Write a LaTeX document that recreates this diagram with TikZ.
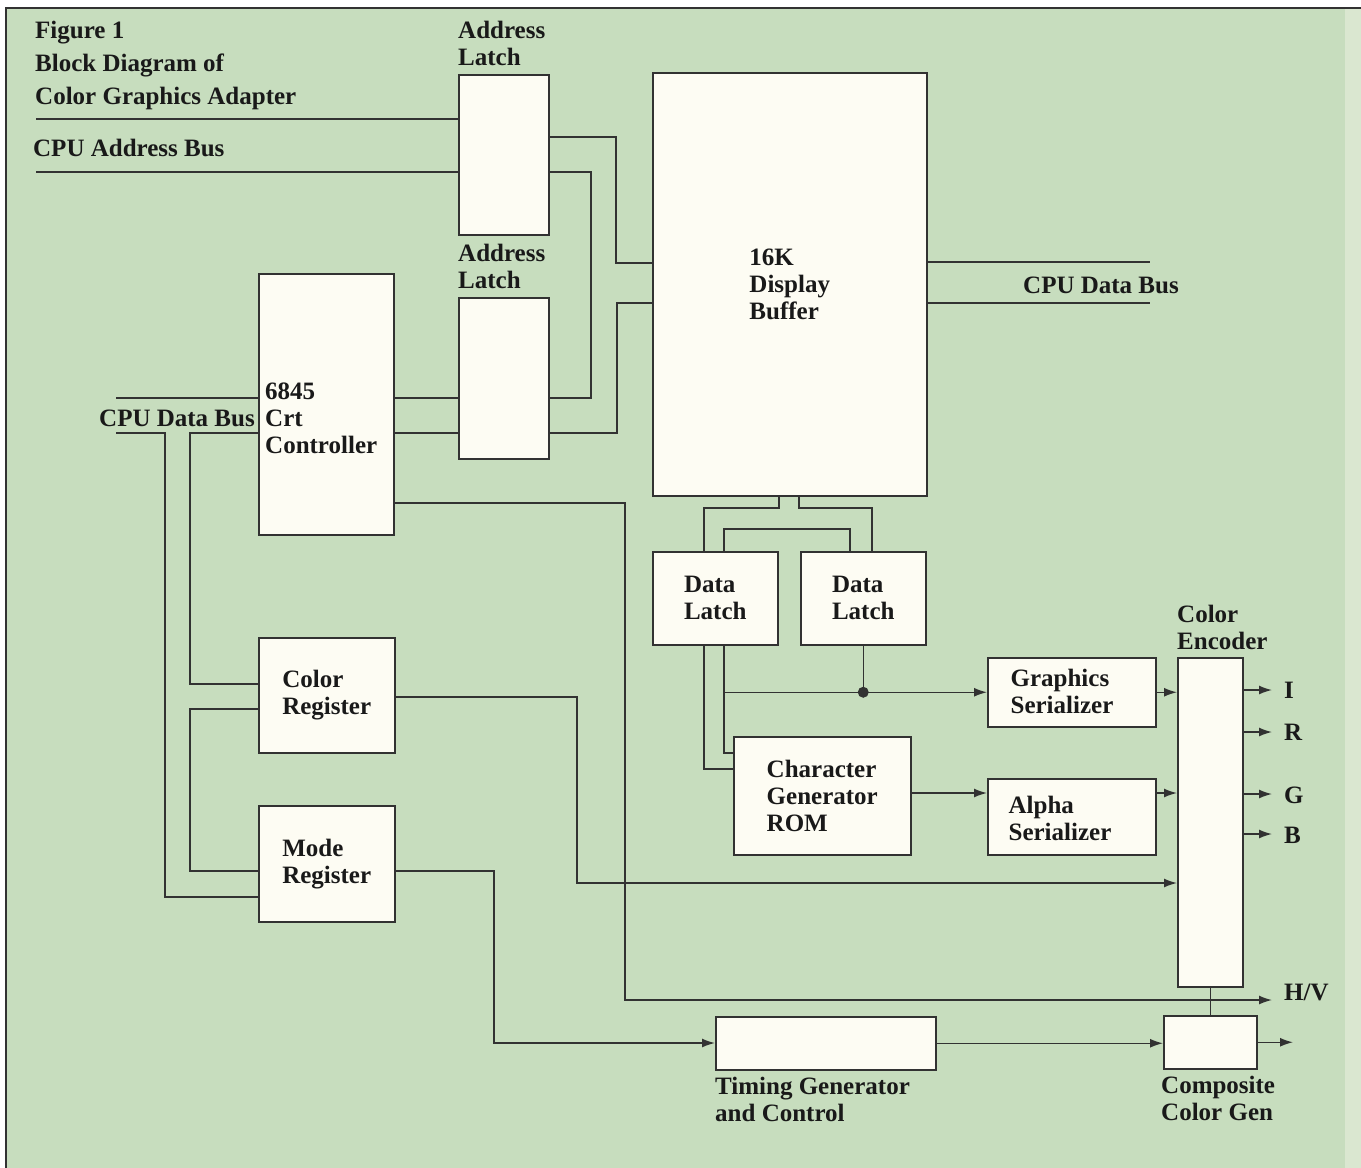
\documentclass[tikz,border=0pt]{standalone}
\usepackage{fontspec}
\setmainfont{Liberation Serif}
\usetikzlibrary{arrows.meta}
\definecolor{bgc}{RGB}{199,221,190}
\definecolor{stripc}{RGB}{218,231,208}
\definecolor{boxc}{RGB}{253,252,243}
\definecolor{linec}{RGB}{50,50,50}
\newcommand\blkfont{\fontsize{25}{27}\selectfont\bfseries}
\tikzset{
  blk/.style={draw=linec,fill=boxc,line width=1.5pt,inner sep=0pt,anchor=north west,
    font=\blkfont,align=left,text=black!90},
  lbl/.style={font=\blkfont,align=left,inner sep=0pt,text=black!90},
  wire/.style={draw=linec,line width=1.5pt},
  arr/.style={wire,-{Latex[length=13pt,width=9pt]}}
}

\begin{document}
\begin{tikzpicture}[x=1pt,y=-1pt]
  \useasboundingbox (0,0) rectangle (1361,1168);
  \fill[white] (0,0) rectangle (1361,1168);
  \fill[bgc] (6,8) rectangle (1361,1168);
  \fill[stripc] (1345,8) rectangle (1361,1168);
  \draw[linec,line width=1.2pt] (6,1168) -- (6,8) -- (1361,8);

  % blocks
  \node[blk,minimum width=90,minimum height=160] (al1) at (458,74) {};
  \node[blk,minimum width=90,minimum height=161] (al2) at (458,297) {};
  \node[blk,minimum width=274,minimum height=423] (db) at (652,72) {16K\\Display\\Buffer};
  \node[blk,minimum width=135,minimum height=261] (crt) at (258,273) {};
  \node[blk,minimum width=136,minimum height=115] (color) at (258,637) {Color\\Register};
  \node[blk,minimum width=136,minimum height=116] (mode) at (258,805) {Mode\\Register};
  \node[blk,minimum width=125,minimum height=93] (dl1) at (652,551) {Data\\Latch};
  \node[blk,minimum width=125,minimum height=93] (dl2) at (800,551) {Data\\Latch};
  \node[blk,minimum width=177,minimum height=118] (cg) at (733,736) {Character\\Generator\\ROM};
  \node[blk,minimum width=168,minimum height=69] (graph) at (987,657) {};
  \node[blk,minimum width=168,minimum height=76] (alpha) at (987,778) {};
  \node[blk,minimum width=65,minimum height=329] (enc) at (1177,657) {};
  \node[blk,minimum width=220,minimum height=53] (timing) at (715,1016) {};
  \node[blk,minimum width=93,minimum height=53] (comp) at (1163,1015) {};

  % texts
  \node[lbl,anchor=north west,font=\fontsize{25}{33}\selectfont\bfseries] (title) at (35,21)
    {Figure 1\\Block Diagram of\\Color Graphics Adapter};
  \node[lbl,anchor=base west] at (33,156) {CPU Address Bus};
  \node[lbl,anchor=south west] at ([yshift=8]al1.north west) {Address\\Latch};
  \node[lbl,anchor=south west] at ([yshift=8]al2.north west) {Address\\Latch};
  \node[lbl,anchor=west] at ([xshift=7]crt.west |- 0,418) {6845\\Crt\\Controller};
  \node[lbl,anchor=base east] at (255,426) {CPU Data Bus};
  \node[lbl,anchor=base west] at (1023,293) {CPU Data Bus};
  \node[lbl] at (1062,691) {Graphics\\Serializer};
  \node[lbl] at (1060,818) {Alpha\\Serializer};
  \node[lbl,anchor=south west] at ([yshift=7]enc.north west) {Color\\Encoder};
  \node[lbl,anchor=north west] at ([yshift=-6]timing.south west) {Timing Generator\\and Control};
  \node[lbl,anchor=north west] at ([xshift=-2,yshift=-6]comp.south west) {Composite\\Color Gen};
  \node[lbl,anchor=west] at (1284,690) {I};
  \node[lbl,anchor=west] at (1284,732) {R};
  \node[lbl,anchor=west] at (1284,795) {G};
  \node[lbl,anchor=west] at (1284,835) {B};
  \node[lbl,anchor=west] at (1284,992) {H/V};

  % address bus
  \coordinate (abus1) at (36,119); \coordinate (abus2) at (36,172);
  \draw[wire] (abus1) -- (al1.west |- abus1);
  \draw[wire] (abus2) -- (al1.west |- abus2);
  \draw[wire] (al1.east |- 0,137) -| (616,263) -- (db.west |- 0,263);
  \draw[wire] (al1.east |- 0,172) -| (591,398) -- (al2.east |- 0,398);
  \draw[wire] (db.west |- 0,303) -| (617,433) -- (al2.east |- 0,433);
  \draw[wire] (crt.east |- 0,398) -- (al2.west |- 0,398);
  \draw[wire] (crt.east |- 0,433) -- (al2.west |- 0,433);

  % data bus
  \coordinate (dbus1) at (1150,262); \coordinate (dbus2) at (1150,303);
  \draw[wire] (db.east |- dbus1) -- (dbus1);
  \draw[wire] (db.east |- dbus2) -- (dbus2);
  \coordinate (cbus1) at (116,398); \coordinate (cbus2) at (116,433);
  \draw[wire] (cbus1) -- (crt.west |- cbus1);
  \draw[wire] (cbus2) -| (165,897) -- (mode.west |- 0,897);
  \draw[wire] (crt.west |- cbus2) -| (190,684) -- (color.west |- 0,684);
  \draw[wire] (color.west |- 0,709) -| (190,871) -- (mode.west |- 0,871);

  % buffer to latches
  \draw[wire] (db.south -| 779,0) -- (779,508) -| (dl1.north -| 704,0);
  \draw[wire] (db.south -| 799,0) -- (799,508) -| (dl2.north -| 872,0);
  \draw[wire] (dl1.north -| 724,0) -- (724,529) -| (dl2.north -| 850,0);
  \draw[wire] (dl1.south -| 704,0) |- (cg.west |- 0,769);
  \draw[wire] (dl1.south -| 724,0) |- (cg.west |- 0,753);
  \draw[arr] (graph.west -| 724,0) -- (graph.west);
  \draw[wire] (dl2.south) -- (dl2.south |- graph.west) node[circle,fill=linec,inner sep=0pt,minimum size=11pt] (jn) {};
  \draw[arr] (cg.east |- 0,793) -- (alpha.west |- 0,793);

  % serializers to encoder
  \draw[arr] (graph.east) -- (enc.west |- graph.east);
  \draw[arr] (alpha.east |- 0,793) -- (enc.west |- 0,793);
  \foreach \yy in {690,732,794,834}
    \draw[arr] (enc.east |- 0,\yy) -- (1272,\yy);

  % registers and timing
  \coordinate (hv) at (1272,1000); \coordinate (cout) at (1293,1042);
  \draw[arr] (crt.east |- 0,503) -| (625,1000) -- (hv);
  \draw[arr] (color.east |- 0,697) -| (577,883) -- (enc.west |- 0,883);
  \draw[arr] (mode.east |- 0,871) -| (494,1043) -- (timing.west |- 0,1043);
  \draw[arr] (timing.east) -- (comp.west |- timing.east);
  \draw[arr] (comp.east) -- (comp.east -| cout);
  \draw[wire] (enc.south) -- (comp.north);
\end{tikzpicture}
\end{document}
